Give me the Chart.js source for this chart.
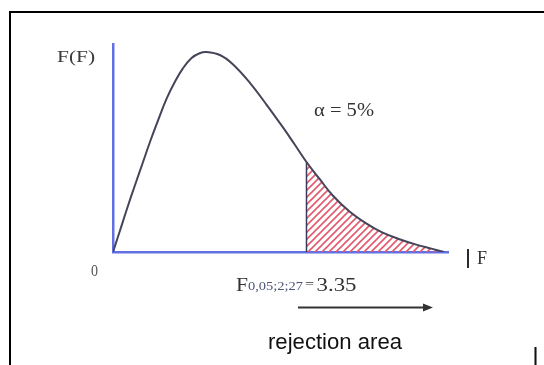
<!DOCTYPE html>
<html>
<head>
<meta charset="utf-8">
<title>F distribution</title>
<script src="https://cdn.jsdelivr.net/npm/chart.js@4.4.1/dist/chart.umd.min.js"></script>
<style>
  html, body { margin: 0; padding: 0; background: #fff; }
  #wrap { position: relative; width: 544px; height: 365px; }
</style>
</head>
<body>
<div id="wrap"><canvas id="fChart" width="544" height="365"></canvas></div>
<script>
// F values along the horizontal axis
const fValues = [0, 0.12, 0.24, 0.38, 0.52, 0.64, 0.78, 0.93, 1.07, 1.21, 1.36, 1.5, 1.62, 1.85, 2.07,
  2.37, 2.66, 2.94, 3.14, 3.35, 3.58, 3.8, 4.09, 4.39, 4.66, 4.96, 5.25, 5.53, 5.73];
// curve height at each F value
const density = [0, 0.053, 0.107, 0.167, 0.225, 0.275, 0.329, 0.384, 0.425, 0.459, 0.485, 0.497, 0.50,
  0.4925, 0.47, 0.423, 0.368, 0.312, 0.27, 0.225, 0.182, 0.142, 0.102, 0.071, 0.049, 0.032, 0.0185, 0.0078, 0];
const fCritical = 3.35;
const xRange = [0, 5.8];
const yRange = [0, 0.52];

const curve = fValues.map((x, i) => ({ x: x, y: density[i] }));
const tail = curve.filter(p => p.x >= fCritical);
const critHeight = density[fValues.indexOf(fCritical)];

const axisBlue = '#6270e4';

// red diagonal hatching for the rejection area
function makeHatch() {
  const s = 7;
  const c = document.createElement('canvas');
  c.width = s; c.height = s;
  const g = c.getContext('2d');
  g.strokeStyle = '#e25a6e';
  g.lineWidth = 1.6;
  g.beginPath();
  g.moveTo(0, s); g.lineTo(s, 0);
  g.moveTo(-1, 1); g.lineTo(1, -1);
  g.moveTo(s - 1, s + 1); g.lineTo(s + 1, s - 1);
  g.stroke();
  return g.createPattern(c, 'repeat');
}

// draws text from its left edge, stretched to a given width
function fitText(ctx, text, x, y, width, font, color) {
  ctx.save();
  ctx.font = font;
  ctx.fillStyle = color;
  ctx.textBaseline = 'alphabetic';
  ctx.textAlign = 'left';
  const w = ctx.measureText(text).width;
  ctx.translate(x, y);
  ctx.scale(width / w, 1);
  ctx.fillText(text, 0, 0);
  ctx.restore();
}

const frame = {
  id: 'frame',
  beforeDraw(chart) {
    const ctx = chart.ctx;
    ctx.save();
    ctx.strokeStyle = '#000';
    ctx.lineWidth = 2;
    ctx.beginPath();
    ctx.moveTo(10, 365);
    ctx.lineTo(10, 12);
    ctx.lineTo(544, 12);
    ctx.stroke();
    ctx.restore();
  }
};

const labels = {
  id: 'labels',
  afterDraw(chart) {
    const ctx = chart.ctx;
    const serif = '"Liberation Serif", "Times New Roman", serif';
    const sans = '"Liberation Sans", Arial, sans-serif';

    fitText(ctx, 'F(F)', 57, 62, 38, '17px ' + serif, '#3a3a3a');
    fitText(ctx, 'α = 5%', 314, 116, 60, '19px ' + serif, '#333');
    fitText(ctx, '0', 91, 275.5, 7, '16px ' + serif, '#555');

    // axis name at the end of the F axis
    fitText(ctx, '|', 466, 264, 4, 'bold 20px ' + sans, '#111');
    fitText(ctx, 'F', 477, 264, 10, '18px ' + serif, '#333');

    // critical value
    fitText(ctx, 'F', 236, 291, 12, '19px ' + serif, '#333');
    fitText(ctx, '0,05;2;27', 248, 290, 55, '13px ' + serif, '#4d5575');
    fitText(ctx, '=', 305, 288, 9, '13px ' + serif, '#333');
    fitText(ctx, '3.35', 316.5, 291, 40, '19px ' + serif, '#333');

    // arrow pointing into the rejection area
    ctx.save();
    ctx.strokeStyle = '#333';
    ctx.fillStyle = '#333';
    ctx.lineWidth = 2;
    ctx.beginPath();
    ctx.moveTo(298, 307.5);
    ctx.lineTo(425, 307.5);
    ctx.stroke();
    ctx.beginPath();
    ctx.moveTo(433, 307.5);
    ctx.lineTo(423, 303.5);
    ctx.lineTo(423, 311.5);
    ctx.closePath();
    ctx.fill();
    ctx.restore();

    fitText(ctx, 'rejection area', 268, 349, 134, '22px ' + sans, '#111');
    fitText(ctx, 'I', 533.5, 366, 4, 'bold 27px ' + sans, '#111');
  }
};

const ctx = document.getElementById('fChart').getContext('2d');

new Chart(ctx, {
  type: 'line',
  data: {
    datasets: [
      {
        // density curve
        data: curve,
        borderColor: '#45455a',
        borderWidth: 2,
        pointRadius: 0,
        tension: 0.4,
        fill: false
      },
      {
        // critical value line
        data: [{ x: fCritical, y: 0 }, { x: fCritical, y: critHeight }],
        borderColor: '#3a3a58',
        borderWidth: 1.5,
        pointRadius: 0,
        tension: 0,
        fill: false
      },
      {
        // rejection area
        data: tail,
        borderWidth: 0,
        borderColor: 'rgba(0,0,0,0)',
        backgroundColor: makeHatch(),
        pointRadius: 0,
        tension: 0.4,
        fill: 'origin'
      }
    ]
  },
  options: {
    responsive: false,
    animation: false,
    events: [],
    layout: {
      padding: { left: 113, right: 96, top: 44, bottom: 113 }
    },
    plugins: {
      legend: { display: false },
      tooltip: { enabled: false }
    },
    scales: {
      x: {
        type: 'linear',
        min: xRange[0],
        max: xRange[1],
        ticks: { display: false },
        grid: { display: false, drawTicks: false },
        border: { color: axisBlue, width: 2.5 }
      },
      y: {
        min: yRange[0],
        max: yRange[1],
        ticks: { display: false },
        grid: { display: false, drawTicks: false },
        border: { color: axisBlue, width: 2.5 }
      }
    }
  },
  plugins: [frame, labels]
});
</script>
</body>
</html>
